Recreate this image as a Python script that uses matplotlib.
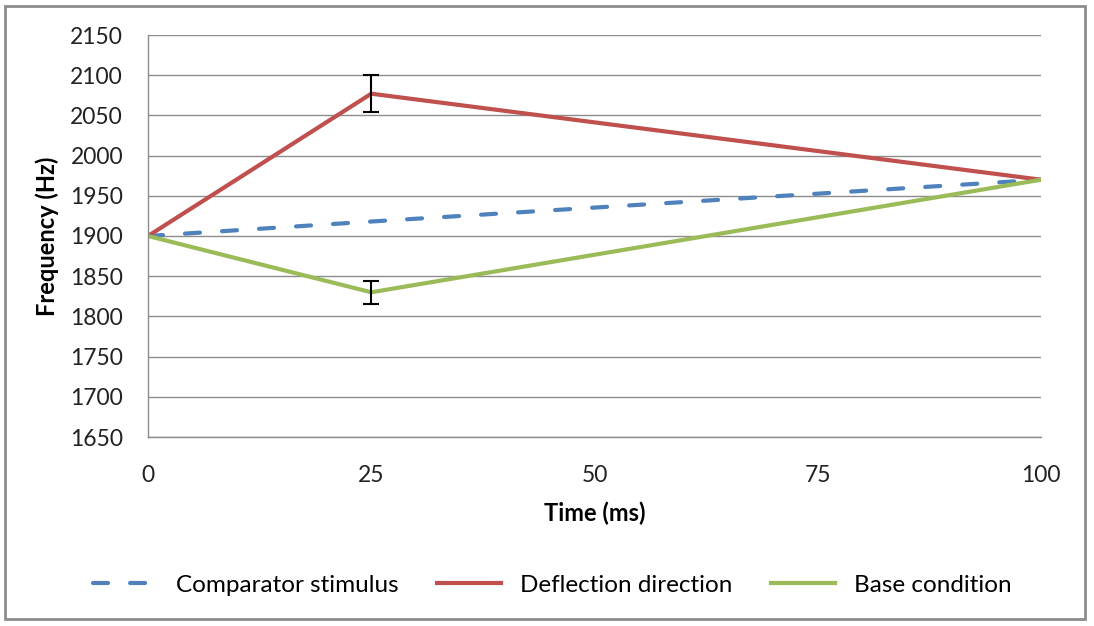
import matplotlib
matplotlib.use('Agg')
import matplotlib.pyplot as plt
from matplotlib.patches import Rectangle

plt.rcParams['font.family'] = ['Lato', 'DejaVu Sans']

# ---- Data ----
time_ms = [0, 25, 100]
comparator = [1900, 1918, 1970]
deflection = [1900, 2077, 1970]
base = [1900, 1830, 1970]
deflection_err = [0, 23, 0]
base_err = [0, 14, 0]
x_ticks = [0, 25, 50, 75, 100]
y_ticks = list(range(1650, 2151, 50))

blue = '#4F81BD'
red = '#C0504D'
green = '#9BBB59'

fig = plt.figure(figsize=(10.94, 6.26), dpi=100)
ax = fig.add_axes([148 / 1094, 1 - 437 / 626, (1041 - 148) / 1094, (437 - 35) / 626])

dash = (0, (3.6, 5.3))
l1, = ax.plot(time_ms, comparator, color=blue, lw=3, ls=dash,
              dash_capstyle='round', label='Comparator stimulus')
l2, = ax.plot(time_ms, deflection, color=red, lw=3, label='Deflection direction')
l3, = ax.plot(time_ms, base, color=green, lw=3, label='Base condition')

ax.errorbar([time_ms[1]], [deflection[1]], yerr=[deflection_err[1]], fmt='none',
            ecolor='black', elinewidth=1.5, capsize=6, capthick=1.5, zorder=5)
ax.errorbar([time_ms[1]], [base[1]], yerr=[base_err[1]], fmt='none',
            ecolor='black', elinewidth=1.5, capsize=6, capthick=1.5, zorder=5)

ax.set_xlim(0, 100)
ax.set_ylim(1650, 2150)
ax.set_xticks(x_ticks)
ax.set_yticks(y_ticks)
ax.tick_params(length=0, labelsize=16.5, colors='#222222')
ax.tick_params(axis='y', pad=18)
ax.tick_params(axis='x', pad=20)
ax.grid(True, axis='y', color='#8c8c8c', lw=1)
ax.set_axisbelow(True)
for s in ['top', 'right']:
    ax.spines[s].set_visible(False)
for s in ['left', 'bottom']:
    ax.spines[s].set_color('#8c8c8c')
    ax.spines[s].set_linewidth(1)

ax.set_xlabel('Time (ms)', fontsize=17, fontweight='bold', va='center')
ax.set_ylabel('Frequency (Hz)', fontsize=17, fontweight='bold', va='center')
ax.xaxis.set_label_coords(0.5, (437 - 513) / 402)
ax.yaxis.set_label_coords((47 - 148) / 893, 0.5)

fig.legend(handles=[l1, l2, l3], loc='center', bbox_to_anchor=(0.505, 1 - 585 / 626),
           ncol=3, frameon=False, fontsize=17.5, handlelength=2.6,
           columnspacing=1.6, handletextpad=0.8)

fig.patches.append(Rectangle((5 / 1094, 1 - 619 / 626), 1080 / 1094, 613 / 626,
                             transform=fig.transFigure, fill=False,
                             edgecolor='#8c8c8c', lw=2))

fig.savefig('out.png', dpi=100)
